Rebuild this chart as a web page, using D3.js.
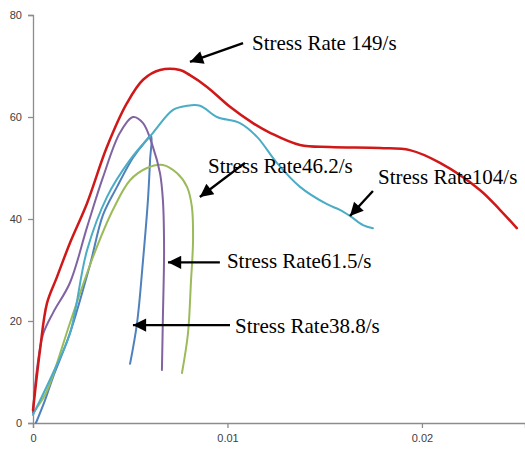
<!DOCTYPE html>
<html>
<head>
<meta charset="utf-8">
<script src="https://cdn.jsdelivr.net/npm/d3@7"></script>
<style>
  html, body { margin: 0; padding: 0; background: #fff; }
  svg { display: block; }
</style>
</head>
<body>
<svg id="chart" width="525" height="450"></svg>
<script>
// Stress–strain curves at different stress rates: [strain, stress]
const rate149 = [[0,2.5],[0.00036,14.3],[0.00072,23.5],[0.00123,28.6],[0.0019,35.3],[0.00278,43.1],[0.0038,54.1],[0.00483,62.7],[0.00566,67.3],[0.00653,69.2],[0.00756,69.2],[0.00807,68.2],[0.00895,65.9],[0.01013,62.0],[0.01131,58.8],[0.01219,56.9],[0.01373,54.5],[0.01527,54.1],[0.01784,53.9],[0.01938,53.5],[0.02093,51.0],[0.02298,45.7],[0.02401,41.8],[0.02488,38.2]];
const rate104 = [[0,1.6],[0.00103,9.8],[0.0019,17.6],[0.00278,33.9],[0.0038,44.3],[0.00499,51.6],[0.00617,56.9],[0.0072,61.4],[0.00792,62.2],[0.00859,62.2],[0.00946,60.0],[0.01064,58.8],[0.01152,56.1],[0.01254,51.0],[0.01373,46.3],[0.01512,42.9],[0.01578,41.8],[0.0163,40.6],[0.01697,38.8],[0.01748,38.2]];
const rate61 = [[0,2.0],[0.0002,10.4],[0.00051,17.3],[0.00103,21.6],[0.0019,27.5],[0.00278,38.4],[0.0036,48.2],[0.00447,56.9],[0.00514,60.0],[0.00566,58.8],[0.00617,54.1],[0.00653,49.0],[0.00668,43.7],[0.00674,33.9],[0.00668,20.8],[0.00663,10.4]];
const rate46 = [[0,2.0],[0.00062,5.5],[0.00103,9.4],[0.0019,19.6],[0.00308,32.5],[0.00411,41.8],[0.00499,47.6],[0.00586,50.0],[0.00668,50.6],[0.0074,49.0],[0.00792,46.3],[0.00817,42.4],[0.00823,35.9],[0.00812,27.5],[0.00797,17.6],[0.00766,9.8]];
const rate38 = [[0.00015,0],[0.00062,4.5],[0.00103,9.0],[0.0019,17.6],[0.00293,31.0],[0.0036,40.8],[0.00432,46.3],[0.00514,52.0],[0.00576,55.1],[0.00607,56.3],[0.00602,51.6],[0.00591,43.7],[0.00566,32.0],[0.00535,19.6],[0.00499,11.6]];

const xTicks = [0, 0.01, 0.02];
const xTickLabels = ["0", "0.01", "0.02"];
const yTicks = [0, 20, 40, 60, 80];

const seriesList = [
  { data: rate38,  color: "#4f81bd", width: 2 },
  { data: rate46,  color: "#9bbb59", width: 2 },
  { data: rate61,  color: "#8064a2", width: 2 },
  { data: rate104, color: "#4bacc6", width: 2 },
  { data: rate149, color: "#d01818", width: 2.5 }
];

// Annotation labels: text position and arrow (from -> tip), in data units
const labelTexts = ["Stress Rate 149/s", "Stress Rate46.2/s", "Stress Rate104/s", "Stress Rate61.5/s", "Stress Rate38.8/s"];
const labelPos = [[0.01126, 73.1], [0.00900, 49.0], [0.01774, 46.9], [0.00997, 30.4], [0.01039, 17.6]];
const arrowFrom = [[0.01080, 74.5], [0.01090, 51.0], [0.01748, 45.5], [0.00961, 31.5], [0.01013, 19.2]];
const arrowTo = [[0.00807, 70.8], [0.00858, 44.3], [0.01630, 40.6], [0.00694, 31.5], [0.00514, 19.2]];

const svg = d3.select("#chart");
const x = d3.scaleLinear().domain([0, 0.0253]).range([33, 525]);
const y = d3.scaleLinear().domain([0, 80]).range([423, 15]);

const axisColor = "#8c8c8c";
const tickTextColor = "#404040";

// Y axis
const yAxis = svg.append("g").attr("transform", "translate(33,0)")
  .call(d3.axisLeft(y).tickValues(yTicks).tickSize(5).tickPadding(6).tickFormat(d3.format("d")));
// X axis
const xAxis = svg.append("g").attr("transform", "translate(0,423)")
  .call(d3.axisBottom(x).tickValues(xTicks).tickSize(5).tickPadding(6)
    .tickFormat((d, i) => xTickLabels[i]));
[yAxis, xAxis].forEach(g => {
  g.select(".domain").attr("stroke", axisColor).attr("stroke-width", 1.3);
  g.selectAll(".tick line").attr("stroke", axisColor).attr("stroke-width", 1.3);
  g.selectAll(".tick text").attr("fill", tickTextColor)
    .style("font-family", "'Liberation Sans', Arial, sans-serif").style("font-size", "11px");
});

// Axis title (sits at the bottom edge)
svg.append("text").attr("x", 303).attr("y", 460).attr("text-anchor", "middle")
  .style("font-family", "'Liberation Sans', Arial, sans-serif").style("font-size", "13px")
  .attr("fill", "#404040").text("ε (-)");

// Curves
const line = d3.line().x(d => x(d[0])).y(d => y(d[1])).curve(d3.curveCatmullRom.alpha(0.5));
svg.append("g").selectAll("path").data(seriesList).join("path")
  .attr("d", s => line(s.data))
  .attr("fill", "none")
  .attr("stroke", s => s.color)
  .attr("stroke-width", s => s.width)
  .attr("stroke-linejoin", "round")
  .attr("stroke-linecap", "round");

// Arrowhead marker
svg.append("defs").append("marker")
  .attr("id", "arrowhead")
  .attr("viewBox", "0 0 10 10")
  .attr("refX", 10).attr("refY", 5)
  .attr("markerWidth", 6.5).attr("markerHeight", 5.5)
  .attr("markerUnits", "strokeWidth")
  .attr("orient", "auto")
  .append("path").attr("d", "M0,0 L10,5 L0,10 Z").attr("fill", "#000");

const ann = svg.append("g");
labelTexts.forEach((t, i) => {
  ann.append("line")
    .attr("x1", x(arrowFrom[i][0])).attr("y1", y(arrowFrom[i][1]))
    .attr("x2", x(arrowTo[i][0])).attr("y2", y(arrowTo[i][1]))
    .attr("stroke", "#000").attr("stroke-width", 2.4)
    .attr("marker-end", "url(#arrowhead)");
  ann.append("text")
    .attr("x", x(labelPos[i][0])).attr("y", y(labelPos[i][1]))
    .style("font-family", "'Liberation Serif', 'Times New Roman', serif")
    .style("font-size", "21px")
    .attr("fill", "#000")
    .text(t);
});
</script>
</body>
</html>
